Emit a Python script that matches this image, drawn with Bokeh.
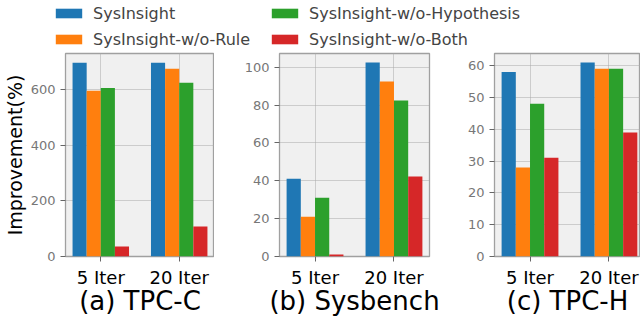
from bokeh.plotting import figure
from bokeh.models import Legend, LegendItem, FixedTicker, Range1d
from bokeh.layouts import column, row
from bokeh.embed import file_html
from bokeh.resources import INLINE

iters = ["5 Iter", "20 Iter"]
series = ["SysInsight", "SysInsight-w/o-Rule", "SysInsight-w/o-Hypothesis", "SysInsight-w/o-Both"]
colors = ["#1f77b4", "#ff7f0e", "#2ca02c", "#d62728"]

tpcc_sysinsight = [697, 697]
tpcc_wo_rule = [596, 675]
tpcc_wo_hyp = [606, 625]
tpcc_wo_both = [36, 108]

sysb_sysinsight = [41, 102.5]
sysb_wo_rule = [21, 92.4]
sysb_wo_hyp = [31, 82.4]
sysb_wo_both = [1, 42.3]

tpch_sysinsight = [58, 61]
tpch_wo_rule = [28, 59]
tpch_wo_hyp = [48, 59]
tpch_wo_both = [31, 39]

titles = ["(a) TPC-C", "(b) Sysbench", "(c) TPC-H"]
yticks_a = [0, 200, 400, 600]
yticks_b = [0, 20, 40, 60, 80, 100]
yticks_c = [0, 10, 20, 30, 40, 50, 60]

FONT = "DejaVu Sans"
offsets = [-0.27, -0.09, 0.09, 0.27]
bar_w = 0.18


def panel(vals, title, yticks, ymax, width, left, right, xend, ylabel=None):
    p = figure(width=width, height=269, output_backend="svg", toolbar_location=None,
               x_range=Range1d(-0.45, xend), y_range=Range1d(0, ymax),
               min_border_left=left, min_border_right=right, min_border_top=2,
               min_border_bottom=64)
    p.background_fill_color = "#f0f0f0"
    p.border_fill_color = "white"
    p.outline_line_color = "#a0a0a0"
    p.outline_line_width = 1.3
    for k, v in enumerate(vals):
        xs = [i + offsets[k] for i in range(len(iters))]
        p.vbar(x=xs, top=v, width=bar_w, bottom=0, fill_color=colors[k], line_color=None)
    p.xaxis.ticker = FixedTicker(ticks=list(range(len(iters))))
    p.xaxis.major_label_overrides = {i: s for i, s in enumerate(iters)}
    p.yaxis.ticker = FixedTicker(ticks=yticks)
    p.xaxis.minor_tick_line_color = None
    p.yaxis.minor_tick_line_color = None
    for ax in (p.xaxis, p.yaxis):
        ax.axis_line_color = None
        ax.major_tick_line_color = "#666666"
        ax.major_tick_out = 5
        ax.major_tick_in = 0
        ax.major_label_text_font = FONT
    p.xaxis.major_label_text_font_size = "18px"
    p.xaxis.major_label_text_color = "black"
    p.xaxis.major_label_standoff = 5
    p.yaxis.major_label_text_font_size = "13px"
    p.yaxis.major_label_text_color = "#777777"
    p.yaxis.major_label_standoff = 5
    p.xaxis.axis_label = title
    p.xaxis.axis_label_text_font = FONT
    p.xaxis.axis_label_text_font_size = "26px"
    p.xaxis.axis_label_text_font_style = "normal"
    p.xaxis.axis_label_text_color = "black"
    p.xaxis.axis_label_standoff = -5
    if ylabel:
        p.yaxis.axis_label = ylabel
        p.yaxis.axis_label_text_font = FONT
        p.yaxis.axis_label_text_font_size = "19px"
        p.yaxis.axis_label_text_font_style = "normal"
        p.yaxis.axis_label_text_color = "black"
        p.yaxis.axis_label_standoff = 2
    for g in (p.xgrid, p.ygrid):
        g.grid_line_color = "#a8a8a8"
        g.grid_line_dash = "1 1"
        g.grid_line_width = 1
    p.xgrid.ticker = p.xaxis.ticker
    return p


pa = panel([tpcc_sysinsight, tpcc_wo_rule, tpcc_wo_hyp, tpcc_wo_both], titles[0], yticks_a, 730, 214, 64, 0, 1.45, "Improvement(%)")
pb = panel([sysb_sysinsight, sysb_wo_rule, sysb_wo_hyp, sysb_wo_both], titles[1], yticks_b, 107.2, 231, 65, 16, 1.45)
pc = panel([tpch_sysinsight, tpch_wo_rule, tpch_wo_hyp, tpch_wo_both], titles[2], yticks_c, 63.8, 195, 49, 0, 1.40)

# legend figure
lf = figure(width=640, height=51, output_backend="svg", toolbar_location=None,
            x_range=Range1d(0, 1), y_range=Range1d(0, 1),
            min_border=0, min_border_left=0, min_border_right=0, min_border_top=0, min_border_bottom=0)
lf.axis.visible = False
lf.grid.visible = False
lf.outline_line_color = None
rends = [lf.vbar(x=[0.5], top=[0], width=0.1, fill_color=c, line_color=None) for c in colors]
locs = [(52, 28), (52, 2), (268, 28), (268, 2)]
for k in range(4):
    lg = Legend(items=[LegendItem(label=series[k], renderers=[rends[k]])], location=locs[k],
                padding=0, margin=0, border_line_color=None, background_fill_alpha=0,
                glyph_width=33, glyph_height=12, label_height=20, label_standoff=8,
                label_text_font=FONT, label_text_font_size="16px", spacing=0)
    lf.add_layout(lg, "center")

layout = column(lf, row(pa, pb, pc, spacing=0), spacing=0)
open("out.html", "w").write(file_html(layout, INLINE))
